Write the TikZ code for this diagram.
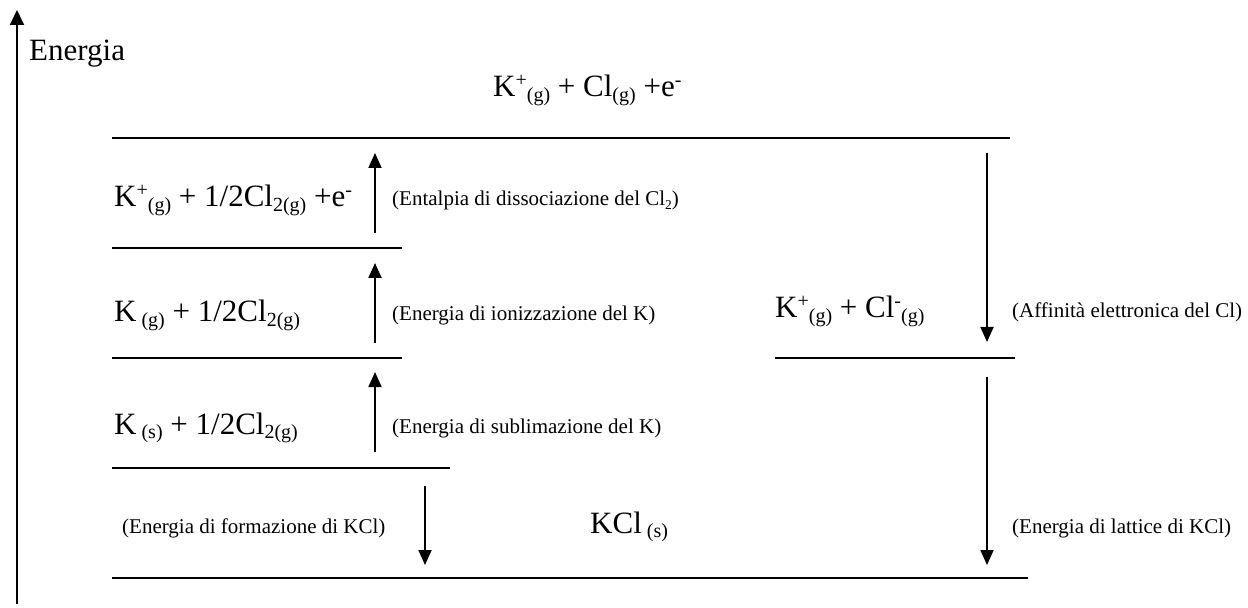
\documentclass[tikz,border=0pt]{standalone}
\usepackage{fontspec}
\setmainfont{Liberation Serif}
\usetikzlibrary{arrows.meta}

% type sizes
\newcommand\bigsz{\fontsize{31bp}{36bp}\selectfont}
\newcommand\lblsz{\fontsize{21bp}{25bp}\selectfont}
% chemical super- and subscripts for the large formulas
\newcommand\chup[1]{\raisebox{0.33em}{\fontsize{20bp}{22bp}\selectfont #1}}
\newcommand\chdn[1]{\raisebox{-0.15em}{\fontsize{20bp}{22bp}\selectfont #1}}
% subscript for the small labels
\newcommand\lbdn[1]{\raisebox{-0.15em}{\fontsize{13.5bp}{15bp}\selectfont #1}}

\begin{document}
\begin{tikzpicture}[x=1bp,y=-1bp,
  formula/.style={anchor=base west,inner sep=0pt,font=\bigsz},
  note/.style={anchor=base west,inner sep=0pt,font=\lblsz},
  level/.style={line width=1.5bp},
  stepline/.style={line width=1.8bp,-{Triangle[length=15bp,width=13bp]}},
  axisline/.style={line width=1.8bp,-{Triangle[length=15bp,width=14bp]}}]

\useasboundingbox (0,0) rectangle (1248,608);

% energy axis
\coordinate (ax0) at (17,604);
\coordinate (ax1) at (17,10);
\draw[axisline] (ax0) -- (ax1);
\node[formula] (energia) at (29,61) {Energia};

% energy levels
\coordinate (l1w) at (112,138);  \coordinate (l1e) at (1010,138);
\coordinate (l2w) at (112,248);  \coordinate (l2e) at (402,248);
\coordinate (l3w) at (112,358);  \coordinate (l3e) at (402,358);
\coordinate (l4w) at (112,468);  \coordinate (l4e) at (450,468);
\coordinate (lrw) at (775,358);  \coordinate (lre) at (1015,358);
\coordinate (l5w) at (112,578);  \coordinate (l5e) at (1028,578);
\draw[level] (l1w) -- (l1e);
\draw[level] (l2w) -- (l2e);
\draw[level] (l3w) -- (l3e);
\draw[level] (l4w) -- (l4e);
\draw[level] (lrw) -- (lre);
\draw[level] (l5w) -- (l5e);

% species on each level
\node[formula] (top) at (493,97) {K\chup{+}\chdn{(g)} + Cl\chdn{(g)} +e\chup{-}};
\node[formula] (ion) at (114,207) {K\chup{+}\chdn{(g)} + 1/2Cl\chdn{2(g)} +e\chup{-}};
\node[formula] (gas) at (114,322) {K\chdn{\ (g)} + 1/2Cl\chdn{2(g)}};
\node[formula] (sol) at (114,434) {K\chdn{\ (s)} + 1/2Cl\chdn{2(g)}};
\node[formula] (ions) at (775,318) {K\chup{+}\chdn{(g)} + Cl\chup{-}\chdn{(g)}};
\node[formula] (kcl) at (590,533) {KCl\chdn{\ (s)}};

% steps of the cycle
\coordinate (a1s) at (375,233); \coordinate (a1e) at (375,153);
\coordinate (a2s) at (375,343); \coordinate (a2e) at (375,263);
\coordinate (a3s) at (375,452); \coordinate (a3e) at (375,372);
\coordinate (a5s) at (425,486); \coordinate (a5e) at (425,565);
\coordinate (r1s) at (987,153); \coordinate (r1e) at (987,342);
\coordinate (r2s) at (987,377); \coordinate (r2e) at (987,565);
\draw[stepline] (a1s) -- (a1e);
\draw[stepline] (a2s) -- (a2e);
\draw[stepline] (a3s) -- (a3e);
\draw[stepline] (a5s) -- (a5e);
\draw[stepline] (r1s) -- (r1e);
\draw[stepline] (r2s) -- (r2e);

% step names
\node[note] (n1) at (392,206) {(Entalpia di dissociazione del Cl\lbdn{2})};
\node[note] (n2) at (392,321) {(Energia di ionizzazione del K)};
\node[note] (n3) at (392,433) {(Energia di sublimazione del K)};
\node[note] (n4) at (1012,318) {(Affinità elettronica del Cl)};
\node[note] (n5) at (122,533) {(Energia di formazione di KCl)};
\node[note] (n6) at (1012,533) {(Energia di lattice di KCl)};
\end{tikzpicture}
\end{document}
